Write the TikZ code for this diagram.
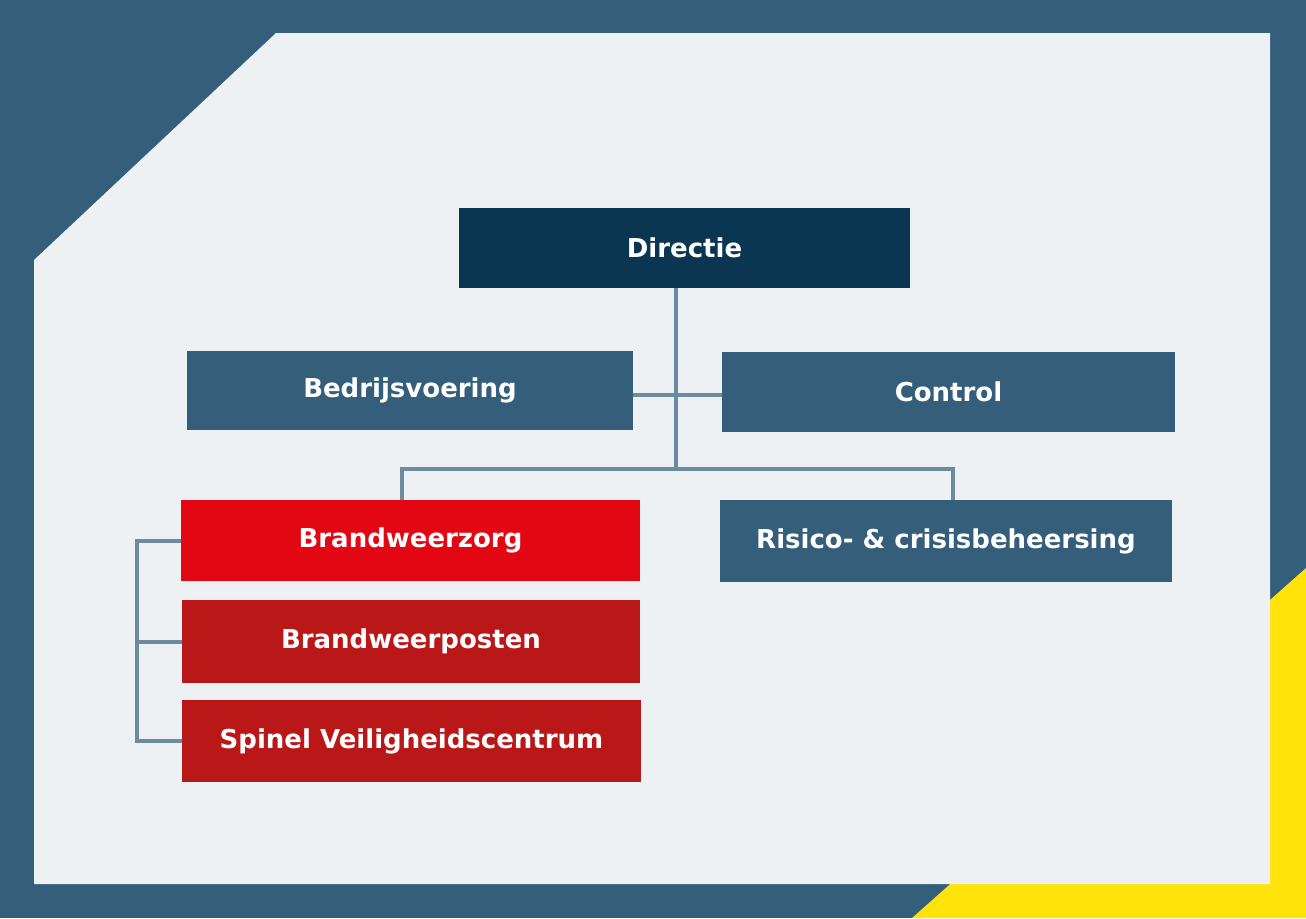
\documentclass[tikz,border=0pt]{standalone}
\usepackage{fontspec}
\setmainfont{DejaVu Sans}
\usepackage{tikz}

\definecolor{frame}{HTML}{345E7A}
\definecolor{panel}{HTML}{EDF1F4}
\definecolor{navy}{HTML}{0B3652}
\definecolor{signal}{HTML}{FFE30B}
\definecolor{brightred}{HTML}{E30613}
\definecolor{darkred}{HTML}{BA1818}
\definecolor{link}{HTML}{6B8BA1}

\begin{document}
\begin{tikzpicture}[x=0.5pt, y=-0.5pt,
    unit/.style={inner sep=0pt, text=white, font=\fontsize{13pt}{15pt}\selectfont\bfseries},
    link/.style={draw=link, line width=2pt}]
    % frame and panel
    \useasboundingbox (0,0) rectangle (1306,918);
    \fill[frame] (0,0) rectangle (1306,918);
    \fill[signal] (912,918) -- (1306,568) -- (1306,918) -- cycle;
    \fill[panel] (276,33) -- (1270,33) -- (1270,884) -- (34,884) -- (34,260) -- cycle;

    % units
    \node[unit, fill=navy, minimum width=225.5pt, minimum height=40pt] (dir) at (684.5,248) {Directie};
    \node[unit, fill=frame, minimum width=223pt, minimum height=39.5pt] (bv) at (410,390.5) {Bedrijsvoering};
    \node[unit, fill=frame, minimum width=226.5pt, minimum height=40pt] (ctrl) at (948.5,392) {Control};
    \node[unit, fill=brightred, minimum width=229.5pt, minimum height=40.5pt] (bz) at (410.5,540.5) {Brandweerzorg};
    \node[unit, fill=frame, minimum width=226pt, minimum height=41pt] (risk) at (946,541) {Risico- \& crisisbeheersing};
    \node[unit, fill=darkred, minimum width=229pt, minimum height=41.5pt] (post) at (411,641.5) {Brandweerposten};
    \node[unit, fill=darkred, minimum width=229.5pt, minimum height=41pt] (spin) at (411.5,741) {Spinel Veiligheidscentrum};

    % connectors
    \coordinate (hub) at (676,469);
    \coordinate (mid) at (676,395);
    \coordinate (bl) at (402,469);
    \coordinate (br) at (953,469);
    \draw[link] (dir.south -| hub) -- (hub);
    \draw[link] (bv.east |- mid) -- (ctrl.west |- mid);
    \draw[link] (bz.north -| bl) -- (bl) -- (br) -- (risk.north -| br);
    \draw[link] (bz.west) -- ++(-44,0) |- (spin.west);
    \draw[link] (post.west) -- ++(-45,0);
\end{tikzpicture}
\end{document}
